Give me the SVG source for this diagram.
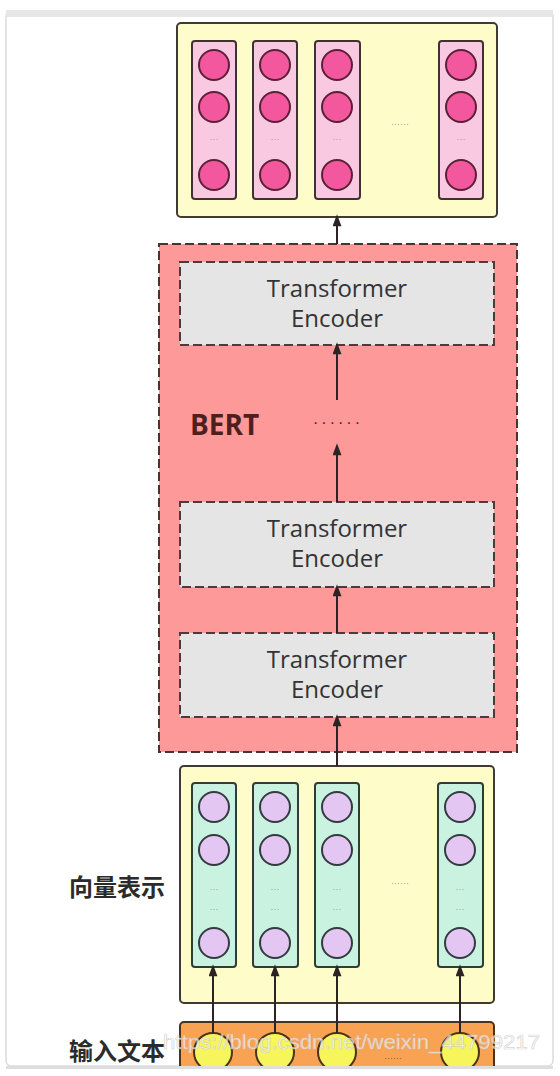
<svg xmlns="http://www.w3.org/2000/svg" width="560" height="1076" viewBox="0 0 560 1076">
  <style>
    .panel { fill: #fefdc9; stroke: #3f3b33; stroke-width: 2; }
    .colOut { fill: #f9c9e2; stroke: #3f3331; stroke-width: 2; }
    .dotOut { fill: #f3589f; stroke: #5a2136; stroke-width: 2; }
    .colVec { fill: #c9f2e0; stroke: #2f3d33; stroke-width: 2; }
    .dotVec { fill: #e3c6f1; stroke: #333a40; stroke-width: 2; }
    .dotIn { fill: #f7f55c; stroke: #4a3318; stroke-width: 2; }
    .bert { fill: #fe9999; stroke: #4d3232; stroke-width: 2; stroke-dasharray: 9 4; }
    .enc { fill: #e5e5e5; stroke: #4d3a3a; stroke-width: 2; stroke-dasharray: 9 4; }
    .encText { font-family: "Open Sans", "Noto Sans", sans-serif; font-size: 24px; fill: #333333; text-anchor: middle; }
    .tiny { font-family: "Liberation Sans", Arial, sans-serif; font-size: 9px; fill: #9a9a9a; text-anchor: middle; }
    .label { font-family: "Noto Sans CJK SC", sans-serif; font-size: 24px; font-weight: bold; fill: #2b2b2b; }
    .link { stroke: #2b2424; stroke-width: 2; fill: none; marker-end: url(#arrow); }
  </style>
  <defs>
    <marker id="arrow" viewBox="0 0 12 16" refX="11" refY="6" markerWidth="16" markerHeight="12" markerUnits="userSpaceOnUse" orient="auto">
      <path d="M0,0 L16,6 L0,12 Z" fill="#2b2424"/>
    </marker>
    <clipPath id="card">
      <rect x="6" y="11" width="547" height="1055"/>
    </clipPath>
  </defs>

  <!-- page card -->
  <rect x="0" y="0" width="560" height="1076" fill="#ffffff"/>
  <rect x="6" y="11" width="547" height="1055" rx="5" fill="#ffffff" stroke="#dcdcdc" stroke-width="1.5"/>
  <rect x="6" y="10" width="547" height="7" fill="#e7e7e7"/>
  <rect x="6" y="1066" width="547" height="3" fill="#dedede"/>

  <g clip-path="url(#card)">
    <!-- output vectors -->
    <g id="output">
      <rect class="panel" x="177" y="23" width="320" height="194" rx="4"/>
      <rect class="colOut" x="192" y="41" width="44" height="158" rx="3"/>
      <rect class="colOut" x="253" y="41" width="44" height="158" rx="3"/>
      <rect class="colOut" x="315" y="41" width="45" height="158" rx="3"/>
      <rect class="colOut" x="439" y="41" width="44" height="158" rx="3"/>
      <circle class="dotOut" cx="214" cy="65" r="15"/>
      <circle class="dotOut" cx="214" cy="107" r="15"/>
      <circle class="dotOut" cx="214" cy="175" r="15"/>
      <circle class="dotOut" cx="275" cy="65" r="15"/>
      <circle class="dotOut" cx="275" cy="107" r="15"/>
      <circle class="dotOut" cx="275" cy="175" r="15"/>
      <circle class="dotOut" cx="337" cy="65" r="15"/>
      <circle class="dotOut" cx="337" cy="107" r="15"/>
      <circle class="dotOut" cx="337" cy="175" r="15"/>
      <circle class="dotOut" cx="461" cy="65" r="15"/>
      <circle class="dotOut" cx="461" cy="107" r="15"/>
      <circle class="dotOut" cx="461" cy="175" r="15"/>
      <text class="tiny" x="214" y="142">···</text>
      <text class="tiny" x="275" y="142">···</text>
      <text class="tiny" x="337" y="142">···</text>
      <text class="tiny" x="461" y="142">···</text>
      <text class="tiny" x="400" y="127">······</text>
    </g>

    <!-- BERT stack -->
    <g id="bert">
      <rect class="bert" x="159" y="244" width="358" height="508"/>
      <text x="190" y="435" font-family="'Open Sans', 'Noto Sans', sans-serif" font-size="28" font-weight="bold" fill="#4e1f1f">BERT</text>
      <text x="338" y="428" font-family="'Liberation Sans', Arial, sans-serif" font-size="16" letter-spacing="3" fill="#4e1f1f" text-anchor="middle">······</text>
    </g>
    <g id="encoder-top">
      <rect class="enc" x="180" y="262" width="314" height="83"/>
      <text class="encText" x="337" y="297">Transformer</text>
      <text class="encText" x="337" y="327">Encoder</text>
    </g>
    <g id="encoder-mid">
      <rect class="enc" x="180" y="502" width="314" height="85"/>
      <text class="encText" x="337" y="537">Transformer</text>
      <text class="encText" x="337" y="567">Encoder</text>
    </g>
    <g id="encoder-bottom">
      <rect class="enc" x="180" y="633" width="314" height="84"/>
      <text class="encText" x="337" y="668">Transformer</text>
      <text class="encText" x="337" y="698">Encoder</text>
    </g>

    <!-- embedding vectors -->
    <g id="embeddings">
      <rect class="panel" x="180" y="766" width="314" height="237" rx="4"/>
      <rect class="colVec" x="192" y="783" width="44" height="184" rx="3"/>
      <rect class="colVec" x="253" y="783" width="45" height="184" rx="3"/>
      <rect class="colVec" x="315" y="783" width="44" height="184" rx="3"/>
      <rect class="colVec" x="438" y="783" width="45" height="184" rx="3"/>
      <circle class="dotVec" cx="214" cy="807" r="15"/>
      <circle class="dotVec" cx="214" cy="850" r="15"/>
      <circle class="dotVec" cx="214" cy="943" r="15"/>
      <circle class="dotVec" cx="275" cy="807" r="15"/>
      <circle class="dotVec" cx="275" cy="850" r="15"/>
      <circle class="dotVec" cx="275" cy="943" r="15"/>
      <circle class="dotVec" cx="337" cy="807" r="15"/>
      <circle class="dotVec" cx="337" cy="850" r="15"/>
      <circle class="dotVec" cx="337" cy="943" r="15"/>
      <circle class="dotVec" cx="460" cy="807" r="15"/>
      <circle class="dotVec" cx="460" cy="850" r="15"/>
      <circle class="dotVec" cx="460" cy="943" r="15"/>
      <text class="tiny" x="214" y="892">···</text>
      <text class="tiny" x="275" y="892">···</text>
      <text class="tiny" x="337" y="892">···</text>
      <text class="tiny" x="460" y="892">···</text>
      <text class="tiny" x="214" y="912">···</text>
      <text class="tiny" x="275" y="912">···</text>
      <text class="tiny" x="337" y="912">···</text>
      <text class="tiny" x="460" y="912">···</text>
      <text class="tiny" x="400" y="886">······</text>
    </g>
    <g id="label-vector">
      <text class="label" x="69" y="896">向量表示</text>
    </g>

    <!-- input tokens -->
    <g id="input">
      <rect x="180" y="1022" width="314" height="70" rx="4" fill="#f8a254" stroke="#4a3318" stroke-width="2"/>
      <circle class="dotIn" cx="213" cy="1052" r="19"/>
      <circle class="dotIn" cx="275" cy="1052" r="19"/>
      <circle class="dotIn" cx="337" cy="1052" r="19"/>
      <circle class="dotIn" cx="460" cy="1052" r="19"/>
      <text x="393" y="1061" font-family="'Liberation Sans', Arial, sans-serif" font-size="9" fill="#8a5a30" text-anchor="middle">······</text>
    </g>
    <g id="label-input">
      <text class="label" x="69" y="1060">输入文本</text>
    </g>

    <!-- connectors -->
    <g id="connectors">
      <line class="link" x1="337" y1="244" x2="337" y2="218"/>
      <line class="link" x1="337" y1="400" x2="337" y2="346"/>
      <line class="link" x1="337" y1="502" x2="337" y2="447"/>
      <line class="link" x1="337" y1="633" x2="337" y2="588"/>
      <line class="link" x1="337" y1="766" x2="337" y2="718"/>
      <line class="link" x1="213" y1="1033" x2="213" y2="968"/>
      <line class="link" x1="275" y1="1033" x2="275" y2="968"/>
      <line class="link" x1="337" y1="1033" x2="337" y2="968"/>
      <line class="link" x1="460" y1="1033" x2="460" y2="968"/>
    </g>

    <!-- site watermark -->
    <text x="163" y="1049" font-family="'Liberation Sans', Arial, sans-serif" font-size="20" textLength="377" lengthAdjust="spacingAndGlyphs" fill="#ffffff" fill-opacity="0.65" stroke="#c4c4c4" stroke-width="0.7" stroke-opacity="0.7">https://blog.csdn.net/weixin_44799217</text>
  </g>
</svg>
